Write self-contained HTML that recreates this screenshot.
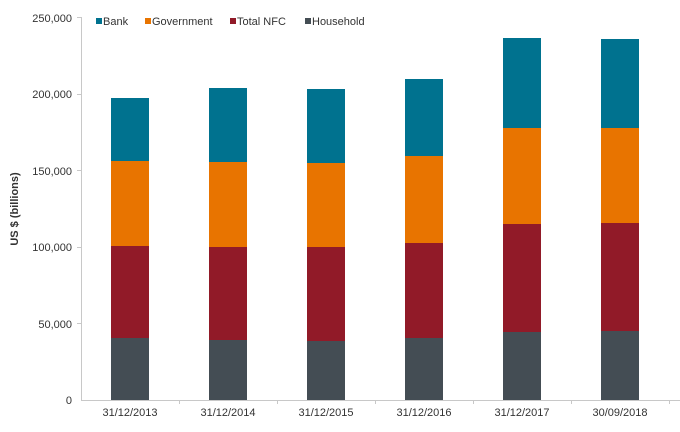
<!DOCTYPE html><html><head><style>body{margin:0;background:#fff}</style></head><body>
<svg width="680" height="427" xmlns="http://www.w3.org/2000/svg" font-family="Liberation Sans, sans-serif" font-size="11" fill="#333">
<g text-anchor="end">
<text x="72" y="22">250,000</text><text x="72" y="98">200,000</text><text x="72" y="175">150,000</text><text x="72" y="251">100,000</text><text x="72" y="328">50,000</text><text x="72" y="404">0</text>
</g>
<text transform="translate(18,209) rotate(-90)" text-anchor="middle" font-weight="bold" font-size="11">US $ (billions)</text>
<g stroke="#c8c8c8" stroke-width="1">
<line x1="81.5" y1="17" x2="81.5" y2="400"/><line x1="81" y1="400.5" x2="680" y2="400.5"/>
<line x1="77" y1="17.5" x2="81" y2="17.5"/><line x1="77" y1="94.5" x2="81" y2="94.5"/><line x1="77" y1="170.5" x2="81" y2="170.5"/><line x1="77" y1="247.5" x2="81" y2="247.5"/><line x1="77" y1="323.5" x2="81" y2="323.5"/>
<line x1="179.5" y1="400" x2="179.5" y2="404"/><line x1="277.5" y1="400" x2="277.5" y2="404"/><line x1="375.5" y1="400" x2="375.5" y2="404"/><line x1="473.5" y1="400" x2="473.5" y2="404"/><line x1="571.5" y1="400" x2="571.5" y2="404"/><line x1="669.5" y1="400" x2="669.5" y2="404"/>
</g>
<g>
<rect x="111" y="338" width="38" height="62" fill="#444d54"/><rect x="111" y="246" width="38" height="92" fill="#911a28"/><rect x="111" y="161" width="38" height="85" fill="#e87400"/><rect x="111" y="98" width="38" height="63" fill="#00728f"/>
<rect x="209" y="340" width="38" height="60" fill="#444d54"/><rect x="209" y="247" width="38" height="93" fill="#911a28"/><rect x="209" y="162" width="38" height="85" fill="#e87400"/><rect x="209" y="88" width="38" height="74" fill="#00728f"/>
<rect x="307" y="341" width="38" height="59" fill="#444d54"/><rect x="307" y="247" width="38" height="94" fill="#911a28"/><rect x="307" y="163" width="38" height="84" fill="#e87400"/><rect x="307" y="89" width="38" height="74" fill="#00728f"/>
<rect x="405" y="338" width="38" height="62" fill="#444d54"/><rect x="405" y="243" width="38" height="95" fill="#911a28"/><rect x="405" y="156" width="38" height="87" fill="#e87400"/><rect x="405" y="79" width="38" height="77" fill="#00728f"/>
<rect x="503" y="332" width="38" height="68" fill="#444d54"/><rect x="503" y="224" width="38" height="108" fill="#911a28"/><rect x="503" y="128" width="38" height="96" fill="#e87400"/><rect x="503" y="38" width="38" height="90" fill="#00728f"/>
<rect x="601" y="331" width="38" height="69" fill="#444d54"/><rect x="601" y="223" width="38" height="108" fill="#911a28"/><rect x="601" y="128" width="38" height="95" fill="#e87400"/><rect x="601" y="39" width="38" height="89" fill="#00728f"/>
</g>
<g text-anchor="middle">
<text x="130" y="416">31/12/2013</text><text x="228" y="416">31/12/2014</text><text x="326" y="416">31/12/2015</text><text x="424" y="416">31/12/2016</text><text x="522" y="416">31/12/2017</text><text x="620" y="416">30/09/2018</text>
</g>
<rect x="96" y="18" width="6" height="6" fill="#00728f"/><text x="103" y="25">Bank</text>
<rect x="145" y="18" width="6" height="6" fill="#e87400"/><text x="152" y="25">Government</text>
<rect x="230" y="18" width="6" height="6" fill="#911a28"/><text x="237" y="25">Total NFC</text>
<rect x="305" y="18" width="6" height="6" fill="#444d54"/><text x="312" y="25">Household</text>
</svg>
</body></html>
